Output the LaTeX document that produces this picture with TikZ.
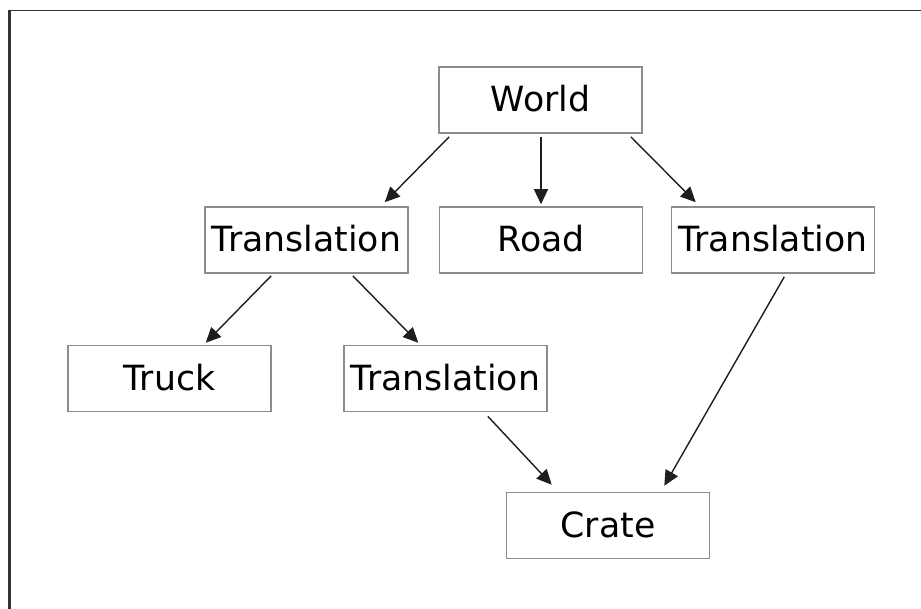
\documentclass[tikz,border=0pt]{standalone}
\usepackage{fontspec}
\setmainfont{DejaVu Sans}
\usetikzlibrary{arrows.meta}
\definecolor{boxgray}{RGB}{140,140,140}
\definecolor{arrgray}{RGB}{30,30,30}
\definecolor{framec}{RGB}{50,50,50}
\begin{document}
\begin{tikzpicture}[x=1pt,y=-1pt,
  objbox/.style={draw=boxgray,line width=1.6pt,minimum width=203pt,minimum height=66pt,
    inner sep=0pt,text height=24pt,text depth=0pt,font=\fontsize{34.7}{40}\selectfont},
  arr/.style={draw=arrgray,line width=1.4pt,-{Triangle[length=15pt,width=14pt]}}]
\useasboundingbox (0,0) rectangle (921,609);
\fill[white] (0,0) rectangle (921,609);
% frame
\draw[framec,line width=1.5pt] (8,10.5) -- (921,10.5);
\draw[framec,line width=3pt] (9,10) -- (9,609);
% nodes
\node[objbox] (world) at (540.5,100) {World};
\node[objbox] (tl) at (306.5,240) {Translation};
\node[objbox] (road) at (541,240) {Road};
\node[objbox] (tr) at (773,240) {Translation};
\node[objbox] (truck) at (169.5,378.5) {Truck};
\node[objbox] (tm) at (445.5,378.5) {Translation};
\node[objbox] (crate) at (608,525.5) {Crate};
% connectors
\draw[arr] ([xshift=11pt,yshift=-3pt]world.south west) -- ([xshift=-24pt,yshift=4pt]tl.north east);
\draw[arr] ([xshift=0.5pt,yshift=-3pt]world.south) -- ([xshift=0pt,yshift=2pt]road.north);
\draw[arr] ([xshift=-12pt,yshift=-3pt]world.south east) -- ([xshift=25pt,yshift=4pt]tr.north west);
\draw[arr] ([xshift=67pt,yshift=-2pt]tl.south west) -- ([xshift=-66pt,yshift=2pt]truck.north east);
\draw[arr] ([xshift=-56pt,yshift=-2pt]tl.south east) -- ([xshift=75pt,yshift=2pt]tm.north west);
\draw[arr] ([xshift=-60pt,yshift=-4pt]tm.south east) -- ([xshift=46pt,yshift=7pt]crate.north west);
\draw[arr] ([xshift=-91pt,yshift=-3pt]tr.south east) -- ([xshift=-46pt,yshift=6pt]crate.north east);
\end{tikzpicture}
\end{document}
